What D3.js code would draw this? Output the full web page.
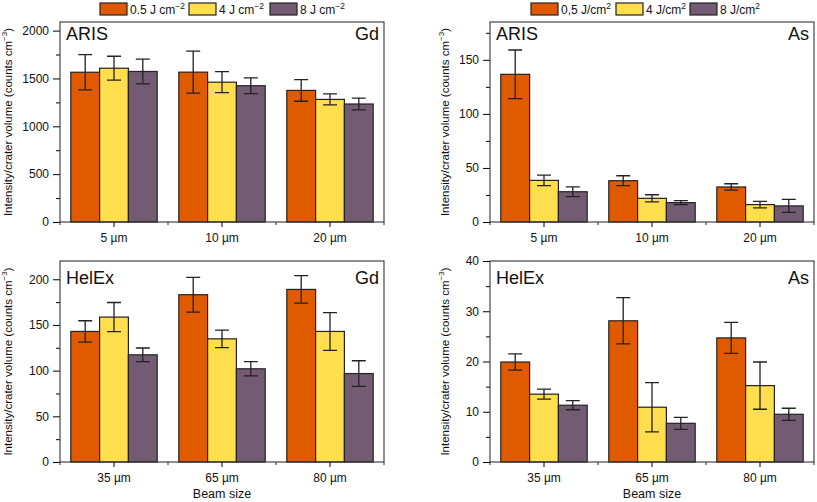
<!DOCTYPE html>
<html>
<head>
  <meta charset="utf-8">
  <title>Intensity per crater volume</title>
  <script src="https://d3js.org/d3.v7.min.js"></script>
  <style>
    body { margin: 0; background: #fff; }
    text { font-family: "Liberation Sans", Arial, sans-serif; fill: #111; }
  </style>
</head>
<body>
  <div id="container"></div>
  <script>
    // beam sizes and fluences
    var arisBeams = ['5 µm', '10 µm', '20 µm'];
    var helexBeams = ['35 µm', '65 µm', '80 µm'];
    var fluences = ['0.5', '4', '8'];
    var colours = ['#e05a00', '#ffdf4d', '#735b73'];

    // values per beam size, one entry per fluence
    var gdAris    = [[1565, 1607, 1573], [1566, 1461, 1424], [1375, 1281, 1233]];
    var gdArisErr = [[185, 125, 130], [220, 110, 83], [113, 58, 62]];
    var asAris    = [[136.6, 38.5, 28.0], [38.2, 21.9, 17.9], [32.4, 16.1, 14.9]];
    var asArisErr = [[22.5, 4.8, 4.5], [4.6, 3.3, 1.8], [3.0, 3.0, 6.0]];
    var gdHelex    = [[142.9, 158.6, 117.3], [183.1, 134.8, 102.0], [188.9, 142.9, 96.8]];
    var gdHelexErr = [[11.7, 16.0, 7.5], [19.0, 9.6, 7.8], [15.0, 20.7, 14.0]];
    var asHelex    = [[19.9, 13.5, 11.3], [28.1, 10.9, 7.7], [24.7, 15.2, 9.5]];
    var asHelexErr = [[1.6, 1.0, 0.9], [4.6, 4.9, 1.2], [3.1, 4.7, 1.2]];

    // y ticks
    var gdArisTicks = [0, 500, 1000, 1500, 2000];
    var asArisTicks = [0, 50, 100, 150];
    var gdHelexTicks = [0, 50, 100, 150, 200];
    var asHelexTicks = [0, 10, 20, 30, 40];

    var legendGd = [['0.5 J cm', '−2'], ['4 J cm', '−2'], ['8 J cm', '−2']];
    var legendAs = [['0,5 J/cm', '2'], ['4 J/cm', '2'], ['8 J/cm', '2']];

    var svg = d3.select('#container').append('svg')
      .attr('width', 817)
      .attr('height', 502);

    function supText(sel, base, sup, size) {
      sel.append('tspan').text(base);
      sel.append('tspan').attr('dy', -size * 0.4).style('font-size', (size * 0.7) + 'px').text(sup);
    }

    function drawPanel(p) {
      var g = svg.append('g').attr('transform', `translate(${p.x},${p.y})`);
      var x = d3.scaleBand().domain(p.cats).range([0, p.w]);
      var x1 = d3.scaleBand().domain(fluences).range([x.bandwidth() * 0.1, x.bandwidth() * 0.9]);
      var y = d3.scaleLinear().domain([0, p.max]).range([p.h, 0]);

      // minor y ticks (midpoints)
      var step = p.ticks[1] - p.ticks[0];
      var minor = d3.range(step / 2, p.max, step);
      g.append('g')
        .call(d3.axisLeft(y).tickValues(minor).tickSize(4).tickFormat(''))
        .call(a => a.select('.domain').remove());
      g.append('g')
        .call(d3.axisLeft(y).tickValues(p.ticks).tickSize(7).tickPadding(4).tickFormat(d3.format('d')))
        .call(a => a.select('.domain').remove())
        .selectAll('text').style('font-size', '12px');

      // x axis
      g.append('g')
        .attr('transform', `translate(0,${p.h})`)
        .call(d3.axisBottom(x).tickSize(5).tickPadding(6))
        .call(a => a.select('.domain').remove())
        .selectAll('text').style('font-size', '12px');
      var edges = p.cats.map(c => x(c)).concat([p.w]);
      g.selectAll('.xminor').data(edges).enter()
        .append('line')
        .attr('x1', d => d).attr('x2', d => d)
        .attr('y1', p.h).attr('y2', p.h + 3)
        .attr('stroke', '#222');

      // bars
      var groups = g.selectAll('.grp').data(p.cats).enter()
        .append('g')
        .attr('transform', d => `translate(${x(d)},0)`);
      groups.each(function(c, i) {
        var gg = d3.select(this);
        fluences.forEach(function(f, j) {
          var v = p.vals[i][j], e = p.errs[i][j];
          var cx = x1(f) + x1.bandwidth() / 2;
          gg.append('rect')
            .attr('x', x1(f))
            .attr('y', y(v))
            .attr('width', x1.bandwidth())
            .attr('height', p.h - y(v))
            .attr('fill', colours[j])
            .attr('stroke', '#222')
            .attr('stroke-width', 1.2);
          gg.append('path')
            .attr('d', `M ${cx - 7} ${y(v + e)} H ${cx + 7} M ${cx} ${y(v + e)} V ${y(v - e)} M ${cx - 7} ${y(v - e)} H ${cx + 7}`)
            .attr('stroke', '#222')
            .attr('stroke-width', 1.3)
            .attr('fill', 'none');
        });
      });

      // frame
      g.append('rect')
        .attr('width', p.w).attr('height', p.h)
        .attr('fill', 'none')
        .attr('stroke', '#333')
        .attr('stroke-width', 1.1);

      g.append('text')
        .attr('x', 6).attr('y', p.labY)
        .style('font-size', '18px')
        .text(p.method);
      g.append('text')
        .attr('x', p.w - 5).attr('y', p.labY)
        .attr('text-anchor', 'end')
        .style('font-size', '18px')
        .text(p.element);

      // y label
      var yl = svg.append('text')
        .attr('transform', `translate(${p.ylx},${p.y + p.h / 2}) rotate(-90)`)
        .attr('text-anchor', 'middle')
        .style('font-size', '11.5px');
      supText(yl, 'Intensity/crater volume (counts cm', '−3', 11.5);
      yl.append('tspan').attr('dy', 11.5 * 0.4).text(')');

      if (p.xlabel) {
        svg.append('text')
          .attr('x', p.x + p.w / 2).attr('y', 498)
          .attr('text-anchor', 'middle')
          .style('font-size', '12.5px')
          .text('Beam size');
      }
    }

    function drawLegend(items, xs, y0) {
      items.forEach(function(it, i) {
        svg.append('rect')
          .attr('x', xs[i]).attr('y', y0)
          .attr('width', 27).attr('height', 12)
          .attr('fill', colours[i])
          .attr('stroke', '#222')
          .attr('stroke-width', 1.2);
        var t = svg.append('text')
          .attr('x', xs[i] + 30).attr('y', y0 + 11)
          .style('font-size', '12px');
        supText(t, it[0], it[1], 12);
      });
    }

    drawLegend(legendGd, [100, 189, 270], 3);
    drawLegend(legendAs, [531, 616, 690], 3);

    drawPanel({x: 60, y: 22, w: 324, h: 200, max: 2090, ticks: gdArisTicks, cats: arisBeams,
      vals: gdAris, errs: gdArisErr, method: 'ARIS', element: 'Gd', labY: 18, ylx: 12});
    drawPanel({x: 490, y: 22, w: 324, h: 200, max: 185, ticks: asArisTicks, cats: arisBeams,
      vals: asAris, errs: asArisErr, method: 'ARIS', element: 'As', labY: 18, ylx: 449});
    drawPanel({x: 60, y: 261, w: 324, h: 201, max: 220, ticks: gdHelexTicks, cats: helexBeams,
      vals: gdHelex, errs: gdHelexErr, method: 'HelEx', element: 'Gd', labY: 23, ylx: 12, xlabel: true});
    drawPanel({x: 490, y: 261, w: 324, h: 201, max: 40, ticks: asHelexTicks, cats: helexBeams,
      vals: asHelex, errs: asHelexErr, method: 'HelEx', element: 'As', labY: 23, ylx: 449, xlabel: true});
  </script>
</body>
</html>
